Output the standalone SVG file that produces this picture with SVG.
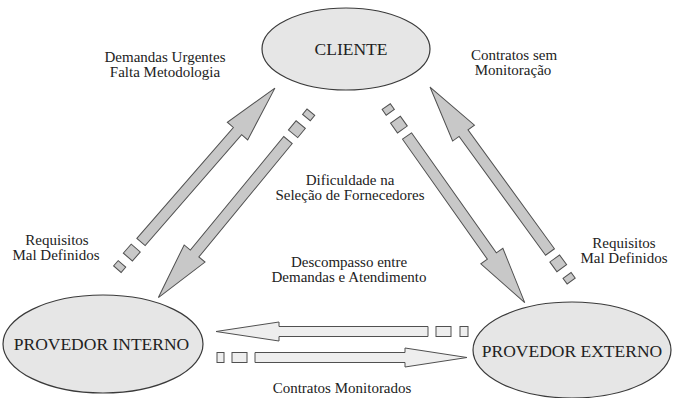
<svg xmlns="http://www.w3.org/2000/svg" width="673" height="398" viewBox="0 0 673 398">
<style>
.node{fill:#e6e6e6;stroke:#3a3a3a;stroke-width:1.2}
.ntext{font-size:17.5px;fill:#222;text-anchor:middle}
.lbl{font-size:15px;fill:#222;text-anchor:middle}
.darr{fill:#c8c8c8;stroke:#505050;stroke-width:1}
.harr{fill:#eeeeee;stroke:#505050;stroke-width:1}
</style>
<defs>
<g id="diag">
<polygon points="0,-5.5 147,-5.5 147,-13.5 204,0 147,13.5 147,5.5 0,5.5"/>
<rect x="-20" y="-6" width="12" height="12"/>
<rect x="-36" y="-5" width="7" height="10"/>
</g>
</defs>
<rect width="673" height="398" fill="#ffffff"/>
<g id="connectors">
<use href="#diag" class="darr" transform="translate(141,242) rotate(-48.97)"/>
<use href="#diag" class="darr" transform="translate(288,140) rotate(129.45)"/>
<use href="#diag" class="darr" transform="translate(407,136) rotate(54.75)"/>
<use href="#diag" class="darr" transform="translate(550,252) rotate(-126.03)"/>
<g class="harr">
<polygon points="428,326.5 279,326.5 279,322 216,331.5 279,341 279,336.5 428,336.5"/>
<rect x="436" y="326.5" width="15" height="10"/>
<rect x="460" y="326.5" width="8" height="10"/>
<polygon points="255,352.5 405,352.5 405,348 467,357.5 405,367 405,362.5 255,362.5"/>
<rect x="217" y="352.5" width="7" height="10"/>
<rect x="232" y="352.5" width="15" height="10"/>
</g>
</g>
<g font-family="'Liberation Serif', 'DejaVu Serif', serif">
<g id="cliente">
<ellipse class="node" cx="346" cy="49" rx="84" ry="41"/>
<text class="ntext" x="351" y="55">CLIENTE</text>
</g>
<g id="provedor-interno">
<ellipse class="node" cx="103" cy="344" rx="100" ry="49"/>
<text class="ntext" x="101.5" y="350">PROVEDOR INTERNO</text>
</g>
<g id="provedor-externo">
<ellipse class="node" cx="572" cy="350" rx="99" ry="48"/>
<text class="ntext" x="572" y="357">PROVEDOR EXTERNO</text>
</g>
<g id="labels">
<text class="lbl" x="165" y="62">Demandas Urgentes</text>
<text class="lbl" x="165" y="77">Falta Metodologia</text>
<text class="lbl" x="514" y="60">Contratos sem</text>
<text class="lbl" x="513" y="75">Monitoração</text>
<text class="lbl" x="350" y="185">Dificuldade na</text>
<text class="lbl" x="350" y="200">Seleção de Fornecedores</text>
<text class="lbl" x="349" y="267">Descompasso entre</text>
<text class="lbl" x="349" y="282">Demandas e Atendimento</text>
<text class="lbl" x="57" y="245">Requisitos</text>
<text class="lbl" x="56" y="260">Mal Definidos</text>
<text class="lbl" x="624" y="248">Requisitos</text>
<text class="lbl" x="624" y="263">Mal Definidos</text>
<text class="lbl" x="342" y="393">Contratos Monitorados</text>
</g>
</g>
</svg>
